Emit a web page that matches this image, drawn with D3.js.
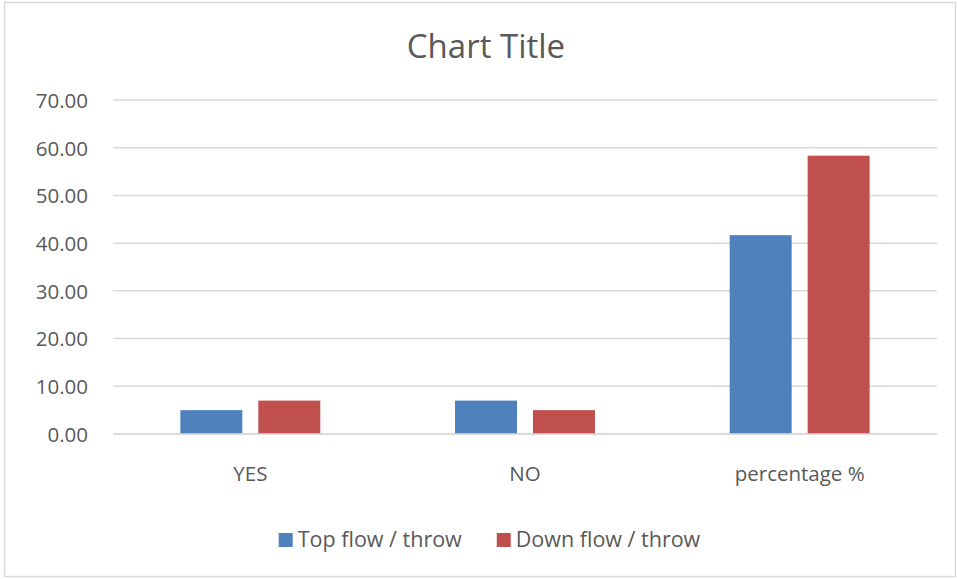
<!DOCTYPE html>
<html>
<head>
<meta charset="utf-8">
<script src="https://cdn.jsdelivr.net/npm/d3@7"></script>
<style>
  html, body { margin: 0; padding: 0; background: #fff; }
  svg { display: block; }
  text { font-family: "Open Sans", "Liberation Sans", sans-serif; fill: #595959; }
</style>
</head>
<body>
<svg id="chart" width="957" height="579"></svg>
<script>
// Chart data
const categories = ["YES", "NO", "percentage %"];
const seriesNames = ["Top flow / throw", "Down flow / throw"];
const topFlow = [5, 7, 41.67];
const downFlow = [7, 5, 58.33];
const yTicks = [0, 10, 20, 30, 40, 50, 60, 70];
const colors = ["#4F81BD", "#C0504D"];

const seriesValues = [topFlow, downFlow];
const rows = categories.map((c, i) => ({
  category: c,
  values: seriesNames.map((s, j) => ({ series: s, value: seriesValues[j][i] }))
}));

const plot = { left: 113, right: 937, top: 100, bottom: 434 };

const svg = d3.select("#chart");

// Outer frame
svg.append("rect")
  .attr("x", 4.5).attr("y", 2.5)
  .attr("width", 951).attr("height", 574)
  .attr("fill", "#fff")
  .attr("stroke", "#d9d9d9").attr("stroke-width", 1.5);

// Title
svg.append("text")
  .attr("x", 486).attr("y", 58)
  .attr("text-anchor", "middle")
  .style("font-size", "33px")
  .text("Chart Title");

const y = d3.scaleLinear().domain([0, 70]).range([plot.bottom, plot.top]);
const x0 = d3.scaleBand().domain(categories).range([plot.left, plot.right]).paddingInner(0).paddingOuter(0);
const x1 = d3.scaleBand().domain(seriesNames).range([0, x0.bandwidth()])
  .paddingInner(0.205).paddingOuter(0.864);
const color = d3.scaleOrdinal().domain(seriesNames).range(colors);

// Horizontal gridlines
svg.append("g")
  .selectAll("line")
  .data(yTicks)
  .join("line")
  .attr("x1", plot.left).attr("x2", plot.right)
  .attr("y1", d => y(d)).attr("y2", d => y(d))
  .attr("stroke", "#d9d9d9").attr("stroke-width", 1.5);

// Y axis labels
const yAxis = d3.axisLeft(y).tickValues(yTicks).tickFormat(d3.format(".2f")).tickSize(0).tickPadding(0);
const gy = svg.append("g").attr("transform", "translate(88,0)").call(yAxis);
gy.select(".domain").remove();
gy.selectAll("text")
  .attr("dy", "0.36em")
  .style("font-size", "20.5px")
  .style("font-family", "'Open Sans', sans-serif")
  .attr("fill", "#595959");

// Bars
svg.append("g")
  .selectAll("g")
  .data(rows)
  .join("g")
  .attr("transform", d => `translate(${x0(d.category)},0)`)
  .selectAll("rect")
  .data(d => d.values)
  .join("rect")
  .attr("x", d => x1(d.series))
  .attr("width", x1.bandwidth())
  .attr("y", d => y(d.value))
  .attr("height", d => y(0) - y(d.value))
  .attr("fill", d => color(d.series));

// Zero baseline on top of bars
svg.append("line")
  .attr("x1", plot.left).attr("x2", plot.right)
  .attr("y1", y(0)).attr("y2", y(0))
  .attr("stroke", "#d9d9d9").attr("stroke-width", 1.5);

// Category labels
const xAxis = d3.axisBottom(x0).tickSize(0).tickPadding(0);
const gx = svg.append("g").attr("transform", `translate(0,${481})`).call(xAxis);
gx.select(".domain").remove();
gx.selectAll("text")
  .attr("dy", 0)
  .style("font-size", "20.5px")
  .style("font-family", "'Open Sans', sans-serif")
  .attr("fill", "#595959");

// Legend
const legend = svg.append("g");
const legendItems = legend.selectAll("g")
  .data(seriesNames)
  .join("g");
legendItems.append("rect")
  .attr("width", 14).attr("height", 14)
  .attr("y", 533)
  .attr("fill", d => color(d));
legendItems.append("text")
  .attr("x", 19).attr("y", 547)
  .style("font-size", "21.5px")
  .text(d => d);

// Lay legend items out side by side, centred
const gap = 35;
const widths = [];
legendItems.each(function() {
  widths.push(19 + this.querySelector("text").getComputedTextLength());
});
const total = d3.sum(widths) + gap * (widths.length - 1);
let start = 489.5 - total / 2;
legendItems.attr("transform", (d, i) => {
  const t = `translate(${start},0)`;
  start += widths[i] + gap;
  return t;
});
</script>
</body>
</html>
